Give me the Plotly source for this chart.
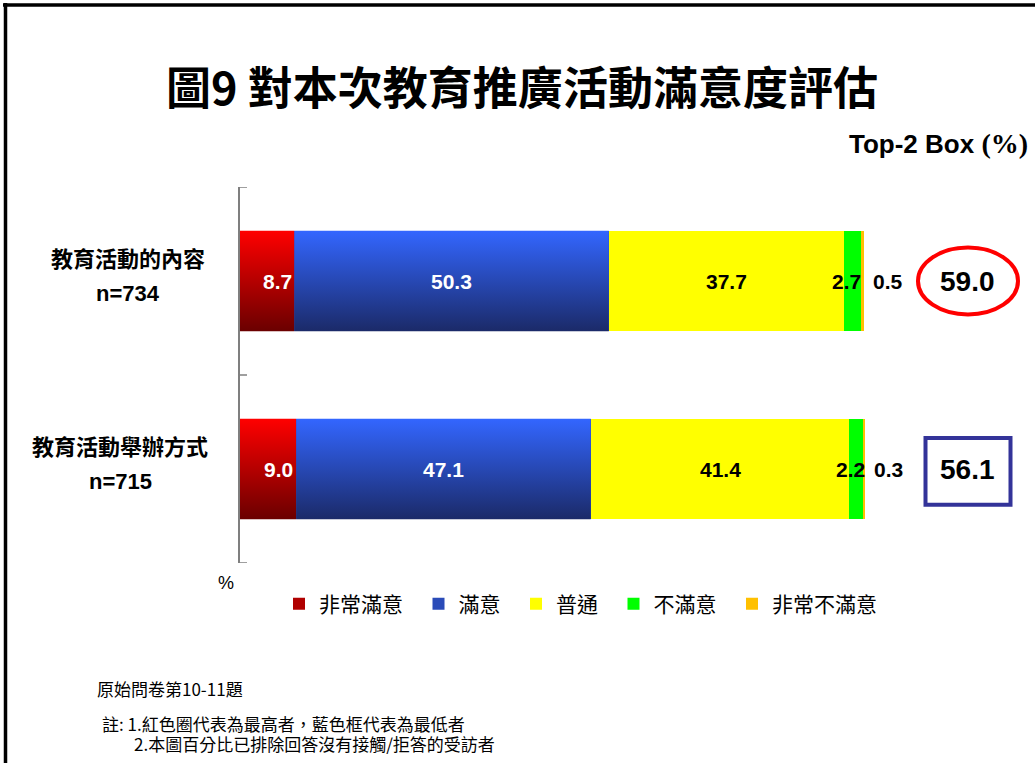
import plotly.graph_objects as go

# ---- data ----
categories = ["教育活動的內容", "教育活動舉辦方式"]
sample_sizes = ["n=734", "n=715"]
series_names = ["非常滿意", "滿意", "普通", "不滿意", "非常不滿意"]
very_satisfied = [8.7, 9.0]
satisfied = [50.3, 47.1]
neutral = [37.7, 41.4]
dissatisfied = [2.7, 2.2]
very_dissatisfied = [0.5, 0.3]

series_values = [very_satisfied, satisfied, neutral, dissatisfied, very_dissatisfied]
top2 = [round(a + b, 1) for a, b in zip(very_satisfied, satisfied)]

# ---- layout geometry ----
W, H = 1035, 763
ML, MR, MT, MB = 240, 5, 187, 200
PW = W - ML - MR
PH = H - MT - MB
PX_PER_PCT = 6.25
X_MAX = PW / PX_PER_PCT
BAR_W = 0.535


def px_x(px):
    return (px - ML) / PW


def px_y(py):
    return (H - MB - py) / PH


SANS = "Arial, Liberation Sans, sans-serif"
CJK = "Noto Sans CJK TC, sans-serif"

solid_colors = ["#B00000", "#2A4BB8", "#FFFF00", "#00FF00", "#FFC000"]
gradient_colors = {0: ("#6A0000", "#FF0000"), 1: ("#1B2A68", "#3366FF")}
label_colors = ["white", "white", "black", "black", "black"]
label_xshift = [10, 0, 0, -6, 0]
AXIS_GRAY = "#7F7F7F"

rows = list(range(len(categories)))

fig = go.Figure()

# stacked bars (also provide the legend entries)
for name, vals, col in zip(series_names, series_values, solid_colors):
    fig.add_trace(go.Bar(
        y=rows, x=vals, orientation="h", name=name + "\u2002",
        width=BAR_W, marker=dict(color=col, line=dict(width=0)),
        hoverinfo="x+name",
    ))

# vertical gradient fill for the two satisfied segments
cum = [[0.0] * len(rows)]
for vals in series_values:
    cum.append([c + v for c, v in zip(cum[-1], vals)])

for s, (dark, bright) in gradient_colors.items():
    for r in rows:
        x0, x1 = cum[s][r], cum[s + 1][r]
        top, bot = r - BAR_W / 2, r + BAR_W / 2
        fig.add_trace(go.Scatter(
            x=[x0, x1, x1, x0, x0], y=[top, top, bot, bot, top],
            mode="lines", line=dict(width=0), fill="toself",
            fillgradient=dict(type="vertical", start=bot, stop=top,
                              colorscale=[[0, dark], [1, bright]]),
            showlegend=False, hoverinfo="skip",
        ))

annotations = []


def note(x, y, text, font, xref="paper", yref="paper", xanchor="center", **kw):
    annotations.append(dict(x=x, y=y, xref=xref, yref=yref, text=text,
                            xanchor=xanchor, yanchor="middle", showarrow=False,
                            font=font, **kw))


# value labels
for s, vals in enumerate(series_values):
    for r in rows:
        v = vals[r]
        if s == len(series_values) - 1:
            note(cum[s + 1][r], r, f"{v:.1f}",
                 dict(family=SANS, size=21, color="black", weight="bold"),
                 xref="x", yref="y", xanchor="left", xshift=7)
        else:
            note(cum[s][r] + v / 2, r, f"{v:.1f}",
                 dict(family=SANS, size=21, color=label_colors[s], weight="bold"),
                 xref="x", yref="y", xshift=label_xshift[s])

# category labels
cat_centers = [128, 120]
for r in rows:
    note(px_x(cat_centers[r]), r, categories[r],
         dict(family=CJK, size=22, color="black", weight="bold"),
         yref="y", yshift=24)
    note(px_x(cat_centers[r]), r, sample_sizes[r],
         dict(family=SANS, size=22, color="black", weight="bold"),
         yref="y", yshift=-12)

# top-2 box values with highlight marks
hi = top2.index(max(top2))
lo = top2.index(min(top2))
shapes = []
for r in rows:
    note(px_x(967), r, f"{top2[r]:.1f}",
         dict(family=SANS, size=28, color="black", weight="bold"), yref="y")
shapes.append(dict(type="circle", xref="paper", yref="y",
                   x0=px_x(918), x1=px_x(1018), y0=hi - 0.178, y1=hi + 0.178,
                   line=dict(color="#FF0000", width=4)))
shapes.append(dict(type="rect", xref="paper", yref="y",
                   x0=px_x(925.5), x1=px_x(1010.5), y0=lo - 0.165, y1=lo + 0.19,
                   line=dict(color="#333399", width=4)))

# category boundary ticks on the value axis, pointing into the plot
for b in [r - 0.5 for r in rows] + [rows[-1] + 0.5]:
    shapes.append(dict(type="line", xref="paper", yref="y",
                       x0=0, x1=px_x(ML + 7), y0=b, y1=b,
                       line=dict(color=AXIS_GRAY, width=1.5)))

note(px_x(1030), px_y(143),
     "Top-2 Box <span style=\"font-family:Liberation Serif;font-size:28px\">(%)</span>",
     dict(family=SANS, size=26, color="black", weight="bold"), xanchor="right")

note(px_x(226), px_y(583), "%", dict(family=SANS, size=18, color="black"))

# footnotes
note(px_x(95), px_y(688), "原始問卷第10-11題",
     dict(family=CJK, size=17, color="black"), xanchor="left")
note(px_x(100), px_y(723), "註: 1.紅色圈代表為最高者，藍色框代表為最低者",
     dict(family=CJK, size=17, color="black"), xanchor="left")
note(px_x(132), px_y(743), "2.本圖百分比已排除回答沒有接觸/拒答的受訪者",
     dict(family=CJK, size=17, color="black"), xanchor="left")

# page frame (top and left edges)
shapes.append(dict(type="line", xref="paper", yref="paper",
                   x0=px_x(3), x1=px_x(1040), y0=px_y(5), y1=px_y(5),
                   line=dict(color="black", width=3.5)))
shapes.append(dict(type="line", xref="paper", yref="paper",
                   x0=px_x(5.5), x1=px_x(5.5), y0=px_y(3), y1=px_y(770),
                   line=dict(color="black", width=3.5)))

fig.update_layout(
    width=W, height=H,
    margin=dict(l=ML, r=MR, t=MT, b=MB),
    paper_bgcolor="white", plot_bgcolor="white",
    barmode="stack", bargap=0,
    title=dict(text="圖9 對本次教育推廣活動滿意度評估",
               x=522 / W, y=1 - 89 / H, xanchor="center", yanchor="middle",
               font=dict(family=CJK, size=45, color="black", weight="bold")),
    xaxis=dict(range=[0, X_MAX], visible=False, fixedrange=True),
    yaxis=dict(range=[1.5, -0.5], showticklabels=False, ticks="",
               showline=True, linecolor=AXIS_GRAY, linewidth=1.5,
               showgrid=False, zeroline=False, fixedrange=True),
    legend=dict(orientation="h", x=px_x(279), xanchor="left",
                y=px_y(604), yanchor="middle", traceorder="normal",
                font=dict(family=CJK, size=21, color="black"),
                bgcolor="rgba(0,0,0,0)"),
    annotations=annotations,
    shapes=shapes,
    showlegend=True,
)

fig.write_html("out.html")
